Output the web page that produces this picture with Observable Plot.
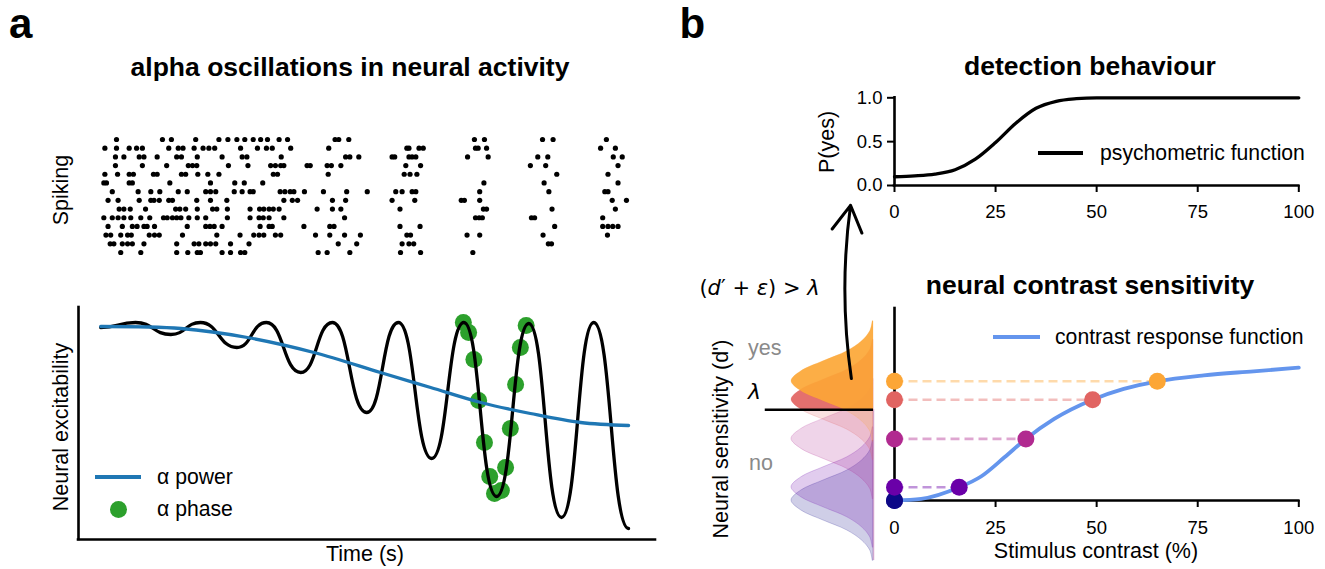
<!DOCTYPE html>
<html><head><meta charset="utf-8">
<script src="https://cdn.jsdelivr.net/npm/d3@7"></script>
<script src="https://cdn.jsdelivr.net/npm/@observablehq/plot@0.6"></script>
<style>
html,body{margin:0;padding:0;background:#fff;}
#fig{position:relative;width:1325px;height:569px;overflow:hidden;background:#fff;}
</style></head><body><div id="fig"></div>
<script>
// ---------------- DATA ----------------
// Panel a: spike raster, spike times (ms) for 14 trials, top row first
const spikeTrains = [
  [30,117,134,180,224,241,258,273,289,303,316,338,354,444,451,470,708,727,837,857,958],
  [8,30,54,68,79,129,147,156,177,194,205,216,265,297,314,325,360,432,580,584,603,611,710,715,731,947,975],
  [28,44,73,82,107,144,153,183,230,268,277,342,464,472,489,552,557,584,590,597,695,734,828,847,971,988],
  [28,79,125,166,174,182,242,279,322,331,341,347,391,397,429,437,455,578,606,814,843,980],
  [8,32,54,62,100,107,153,161,184,203,224,327,335,431,575,586,599,864,961],
  [6,11,54,60,131,208,254,272,307,726,840,980],
  [22,71,95,112,147,164,199,208,218,253,268,283,289,340,349,359,366,386,422,466,505,559,571,590,597,718,849,955,961],
  [14,33,73,95,101,111,129,136,182,208,239,347,363,373,439,464,552,595,683,689,718,969,996],
  [35,44,56,85,142,150,161,183,212,220,240,283,301,309,319,327,338,410,439,455,567,725,731,855,975],
  [6,22,33,44,57,76,93,119,126,136,144,152,167,183,199,240,283,300,308,319,347,462,710,717,723,816,822,951],
  [14,41,60,69,82,88,102,164,199,207,215,230,302,319,325,385,434,442,567,605,860,951,961,970,980],
  [10,19,38,51,58,92,102,111,155,220,264,290,300,309,331,341,407,434,462,492,580,587,694,718,838,960],
  [18,25,41,51,60,82,144,177,186,199,208,218,246,281,450,485,571,584,593,848,854],
  [38,76,144,165,183,189,230,246,265,273,412,429,472,568,606,705]
];
// Panel a: alpha oscillation (peaks and troughs), time in ms, excitability in a.u.
const oscTime  = [0, 66, 133, 189, 258, 314, 379, 439, 504, 564, 627, 688, 750, 811, 873, 934, 1000];
const oscValue = [0.96, 1.01, 0.89, 1.01, 0.76, 1.01, 0.51, 1.01, 0.11, 1.01, -0.35, 1.01, -0.73, 1.00, -0.94, 1.01, -1.05];
// alpha power envelope
const powerTime  = [0, 152, 278, 404, 530, 625, 720, 814, 909, 1000];
const powerValue = [0.97, 0.95, 0.86, 0.71, 0.51, 0.36, 0.21, 0.10, 0.01, -0.02];
// alpha phase samples
const phaseTime  = [687, 697, 707, 716, 727, 737, 746, 759, 767, 776, 786, 795, 806];
const phaseValue = [1.01, 0.91, 0.64, 0.23, -0.19, -0.53, -0.70, -0.67, -0.44, -0.05, 0.39, 0.76, 0.98];
const timeDomain = [-42, 1051];
const excitDomain = [-1.16, 1.16];

// Panel b: psychometric function
const psyContrast = [0, 5, 10, 15, 20, 25, 30, 35, 40, 45, 50, 60, 75, 100];
const psyPYes     = [0.10, 0.11, 0.13, 0.18, 0.30, 0.49, 0.71, 0.88, 0.96, 0.99, 1.0, 1.0, 1.0, 1.0];
const contrastTicks = [0, 25, 50, 75, 100];
const pTicks = [0, 0.5, 1];

// Panel b: contrast response function
const crfContrast = [0, 6.6, 16, 21.4, 27.2, 32.5, 39.5, 49, 56.7, 65, 76.5, 88.8, 100];
const crfDprime   = [0, 0.04, 0.33, 0.6, 1.08, 1.54, 2.04, 2.52, 2.79, 2.98, 3.13, 3.23, 3.32];
// stimulus levels
const levelContrast = [0, 16, 32.5, 49, 65];
const levelDprime   = [0, 0.33, 1.54, 2.52, 2.98];
const levelColors   = ["#0d0887", "#6a00a8", "#b12a90", "#e16462", "#fca636"];
const dprimeDomain = [0, 4.8];
const lambda = 2.27;
const lambdaLineExtent = 1.32;
// noise distribution profile (offset in d' units, relative height)
const profileOffset = [-1.5, -1.25, -1, -0.75, -0.5, -0.25, 0, 0.25, 0.5, 0.75, 1, 1.25, 1.5];
const profileHeight = [0.01, 0.04, 0.14, 0.32, 0.61, 0.88, 1, 0.88, 0.61, 0.32, 0.14, 0.04, 0.01];
// decision arrow (density units, d' units)
const decisionArrow = [{x1: 0.27, y1: 3.05, x2: 0.28, y2: 7.38}];

// ---------------- HELPERS ----------------
const fig = document.getElementById("fig");
const FONT = '"Liberation Sans", Arial, Helvetica, sans-serif';
const MATH = '"DejaVu Sans", sans-serif';
const LABEL = 21.5, LEGEND = 21.2, TICK = 18.5, TITLE = 26.5;
function put(el, left, top) {
  el.style.position = "absolute"; el.style.left = left + "px"; el.style.top = top + "px";
  fig.appendChild(el);
}
function label(text, o) {
  const d = document.createElement("div");
  const size = o.size || LABEL;
  d.style.cssText = `position:absolute;left:${o.x}px;top:${o.y}px;font-size:${size}px;font-weight:${o.weight||"normal"};color:${o.color||"#000"};font-family:${o.family||FONT};line-height:1;white-space:nowrap;`;
  const tx = o.anchor === "start" ? "0" : o.anchor === "end" ? "-100%" : "-50%";
  d.style.transform = `translate(${tx},-50%)` + (o.rotate ? ` rotate(${o.rotate}deg)` : "");
  d.innerHTML = text;
  fig.appendChild(d);
  return d;
}
function legendLine(x1, x2, y, color, w) {
  const d = document.createElement("div");
  d.style.cssText = `position:absolute;left:${x1}px;top:${y - w/2}px;width:${x2-x1}px;height:${w}px;background:${color};`;
  fig.appendChild(d);
}
function legendDot(cx, cy, r, color) {
  const d = document.createElement("div");
  d.style.cssText = `position:absolute;left:${cx-r}px;top:${cy-r}px;width:${2*r}px;height:${2*r}px;border-radius:50%;background:${color};`;
  fig.appendChild(d);
}
const baseStyle = {fontFamily: FONT, background: "transparent", overflow: "visible"};
const SPINE = 2.6;

// ---------------- PANEL a: raster ----------------
const spikes = spikeTrains.flatMap((ts, i) => ts.map(t => ({trial: i + 1, time: t})));
const raster = Plot.plot({
  width: 700, height: 150,
  marginLeft: 78, marginRight: 45, marginTop: 14.65, marginBottom: 13.65,
  x: {domain: timeDomain, axis: null},
  y: {domain: [0.5, 14.5], reverse: true, axis: null},
  style: baseStyle,
  marks: [Plot.dot(spikes, {x: "time", y: "trial", r: 2.6, fill: "black", stroke: "none"})]
});
put(raster, 0, 120);

// ---------------- PANEL a: oscillation ----------------
const osc = oscTime.map((t, i) => ({time: t, value: oscValue[i]}));
const power = powerTime.map((t, i) => ({time: t, value: powerValue[i]}));
const phase = phaseTime.map((t, i) => ({time: t, value: phaseValue[i]}));
const oscPlot = Plot.plot({
  width: 700, height: 260,
  marginLeft: 78, marginRight: 45, marginTop: 17, marginBottom: 11,
  x: {domain: timeDomain, axis: null},
  y: {domain: excitDomain, axis: null},
  style: baseStyle,
  marks: [
    Plot.ruleX([timeDomain[0]], {y1: excitDomain[0], y2: excitDomain[1], stroke: "black", strokeWidth: SPINE, strokeLinecap: "square"}),
    Plot.ruleY([excitDomain[0]], {x1: timeDomain[0], x2: timeDomain[1], stroke: "black", strokeWidth: SPINE, strokeLinecap: "square"}),
    Plot.dot(phase, {x: "time", y: "value", r: 8.5, fill: "#2ca02c", stroke: "none"}),
    Plot.line(osc, {x: "time", y: "value", curve: "bump-x", stroke: "black", strokeWidth: 3.3}),
    Plot.line(power, {x: "time", y: "value", curve: "catmull-rom", stroke: "#1f77b4", strokeWidth: 3.3})
  ]
});
put(oscPlot, 0, 290);

// ---------------- PANEL b: psychometric ----------------
const psy = psyContrast.map((c, i) => ({contrast: c, p: psyPYes[i]}));
const psyPlot = Plot.plot({
  width: 545, height: 150,
  marginLeft: 114, marginRight: 26.7, marginTop: 17.3, marginBottom: 45,
  x: {domain: [0, 100], axis: null},
  y: {domain: [0, 1], axis: null},
  style: baseStyle,
  marks: [
    Plot.axisX({ticks: contrastTicks, tickSize: 7, tickPadding: 12, fontSize: TICK, strokeWidth: 2, label: null, tickFormat: d => d}),
    Plot.axisY({ticks: pTicks, tickSize: 7, tickPadding: 5, fontSize: TICK, strokeWidth: 2, label: null, tickFormat: d3.format(".1f")}),
    Plot.ruleX([0], {y1: 0, y2: 1, stroke: "black", strokeWidth: SPINE, strokeLinecap: "square"}),
    Plot.ruleY([0], {x1: 0, x2: 100, stroke: "black", strokeWidth: SPINE, strokeLinecap: "square"}),
    Plot.line(psy, {x: "contrast", y: "p", curve: "monotone-x", stroke: "black", strokeWidth: 3.3})
  ]
});
put(psyPlot, 780, 80);

// ---------------- PANEL b: distributions ----------------
const distRows = levelDprime.map(m => profileOffset.map((o, j) => ({dprime: m + o, density: profileHeight[j]})));
const distH = 379, distTop = 190;
const yDist = d3.scaleLinear(dprimeDomain, [500 - distTop, 308 - distTop]);
const distMarks = [];
levelDprime.forEach((m, i) => distMarks.push(Plot.areaX(distRows[i], {y: "dprime", x1: 0, x2: "density", fill: levelColors[i], fillOpacity: 0.2, stroke: levelColors[i], strokeOpacity: 0.2, strokeWidth: 1, curve: "catmull-rom"})));
levelDprime.forEach((m, i) => distMarks.push(Plot.areaX(distRows[i], {y: "dprime", x1: 0, x2: "density", fill: levelColors[i], fillOpacity: 0.9, curve: "catmull-rom", clip: true})));
const distPlot = Plot.plot({
  width: 190, height: distH,
  marginLeft: 0, marginRight: 0, marginTop: 0, marginBottom: distH - yDist(lambda),
  x: {domain: [0, 1], range: [173, 91], axis: null},
  y: {domain: dprimeDomain, range: yDist.range(), axis: null},
  style: baseStyle,
  marks: [
    ...distMarks,
    Plot.ruleX([0], {y1: -1.5, y2: lambda, stroke: "#c88cbf", strokeOpacity: 0.7, strokeWidth: 1.5}),
    Plot.ruleY([lambda], {x1: 0, x2: lambdaLineExtent, stroke: "black", strokeWidth: SPINE}),
    Plot.arrow(decisionArrow, {x1: "x1", y1: "y1", x2: "x2", y2: "y2", bend: 8, headLength: 15, stroke: "black", strokeWidth: 3})
  ]
});
put(distPlot, 700, distTop);

// ---------------- PANEL b: contrast response ----------------
const levels = levelContrast.map((c, i) => ({contrast: c, dprime: levelDprime[i], color: levelColors[i]}));
const crf = crfContrast.map((c, i) => ({contrast: c, dprime: crfDprime[i]}));
const crfPlot = Plot.plot({
  width: 465, height: 279,
  marginLeft: 34, marginRight: 26.7, marginTop: 18, marginBottom: 69,
  x: {domain: [0, 100], axis: null},
  y: {domain: dprimeDomain, axis: null},
  color: {type: "identity"},
  style: baseStyle,
  marks: [
    Plot.link(levels, {x1: 0, x2: "contrast", y1: "dprime", y2: "dprime", stroke: "color", strokeOpacity: 0.42, strokeWidth: 2.6, strokeDasharray: "9,5"}),
    Plot.axisX({ticks: contrastTicks, tickSize: 7, tickPadding: 13, fontSize: TICK, strokeWidth: 2, label: null, tickFormat: d => d}),
    Plot.ruleX([0], {y1: dprimeDomain[0], y2: dprimeDomain[1], stroke: "black", strokeWidth: SPINE, strokeLinecap: "square"}),
    Plot.ruleY([0], {x1: 0, x2: 100, stroke: "black", strokeWidth: SPINE, strokeLinecap: "square"}),
    Plot.line(crf, {x: "contrast", y: "dprime", curve: "monotone-x", stroke: "#6495ed", strokeWidth: 3.8}),
    Plot.dot(levels, {x: "contrast", y: "dprime", r: 8.5, fill: "color", stroke: "none"}),
    Plot.dot(levels, {x: 0, y: "dprime", r: 8.5, fill: "color", stroke: "none"})
  ]
});
put(crfPlot, 860, 290);

// ---------------- TEXT ----------------
label("a", {x: 9, y: 23.5, size: 42, weight: "bold", anchor: "start"});
label("b", {x: 679.5, y: 23.5, size: 42, weight: "bold", anchor: "start"});
label("alpha oscillations in neural activity", {x: 350, y: 67, size: TITLE, weight: "bold"});
label("detection behaviour", {x: 1090, y: 66, size: TITLE, weight: "bold"});
label("neural contrast sensitivity", {x: 1090, y: 285, size: TITLE, weight: "bold"});
label("Spiking", {x: 62, y: 190, rotate: -90});
label("Neural excitability", {x: 62, y: 427, rotate: -90});
label("Time (s)", {x: 365, y: 555});
label("P(yes)", {x: 828, y: 142, rotate: -90});
label("Neural sensitivity (d')", {x: 722, y: 439, rotate: -90});
label("Stimulus contrast (%)", {x: 1096, y: 552});
label("yes", {x: 748, y: 349, anchor: "start", color: "#8a8a8a"});
label("no", {x: 749, y: 464, anchor: "start", color: "#8a8a8a"});
label("<i>λ</i>", {x: 748, y: 392, anchor: "start", size: 22, family: MATH});
label("(<i>d</i>′ + <i>ε</i>) &gt; <i>λ</i>", {x: 759.5, y: 288, size: 21, family: MATH});
// legends
legendLine(95, 141, 477, "#1f77b4", 3.4);
label(`<span style="font-family:${MATH};font-style:italic">α</span> power`, {x: 157, y: 477, anchor: "start", size: LEGEND});
legendDot(118, 509, 8.5, "#2ca02c");
label(`<span style="font-family:${MATH};font-style:italic">α</span> phase`, {x: 157, y: 509, anchor: "start", size: LEGEND});
legendLine(1038, 1083, 153, "black", 3.3);
label("psychometric function", {x: 1100, y: 153, anchor: "start", size: LEGEND});
legendLine(993, 1040, 337, "#6495ed", 3.8);
label("contrast response function", {x: 1055, y: 337, anchor: "start", size: LEGEND});
</script></body></html>
